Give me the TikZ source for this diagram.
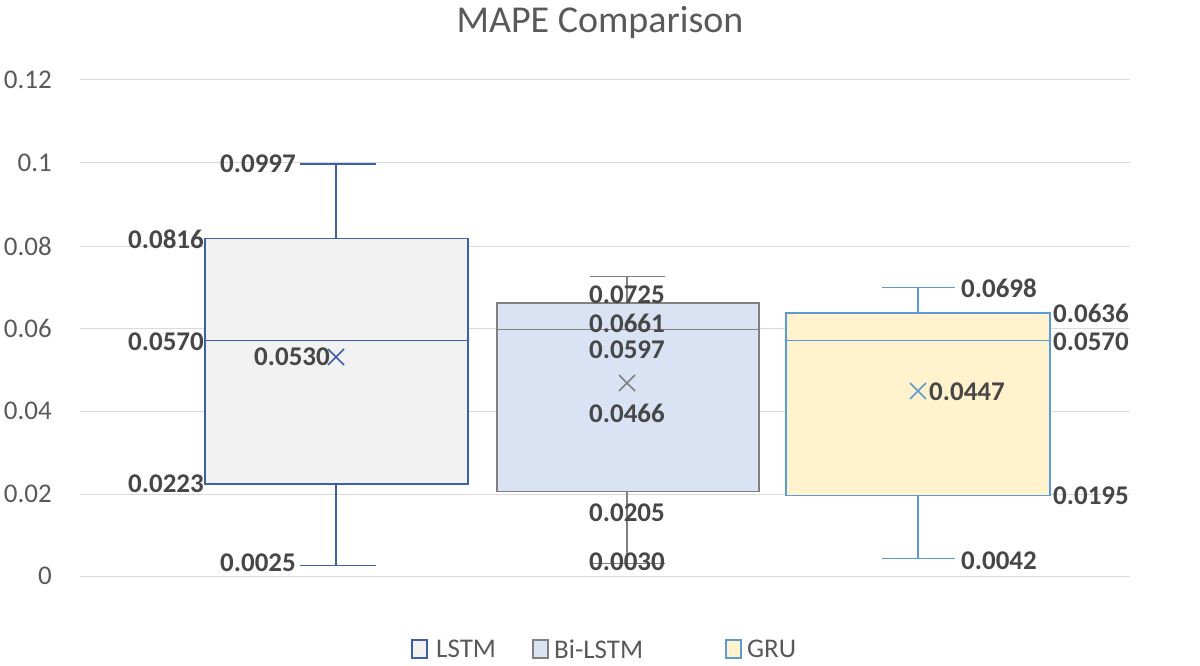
\documentclass[tikz,border=0pt]{standalone}
\usepackage{fontspec}
\setmainfont{Carlito}
\definecolor{lstmc}{HTML}{3D5EA8}
\definecolor{gruc}{HTML}{5B9BD5}
\definecolor{bilf}{HTML}{DAE3F3}
\definecolor{gruf}{HTML}{FFF2CC}
\begin{document}
\begin{tikzpicture}[x=1pt,y=-1pt,
  lbl/.style={font=\fontsize{27}{29}\selectfont\bfseries, text=black!72, inner sep=1pt},
  tick/.style={font=\fontsize{27}{29}\selectfont, text=black!65, anchor=east, inner sep=0pt},
  grid/.style={draw=black!15, line width=1pt},
  lstm/.style={draw=lstmc, fill=black!5, line width=1.5pt},
  bil/.style={draw=black!50, fill=bilf, line width=1.5pt},
  gru/.style={draw=gruc, fill=gruf, line width=1.5pt}]
\useasboundingbox (0,0) rectangle (1200,666);
\node[font=\fontsize{38}{40}\selectfont, text=black!65] (title) at (600,22) {MAPE Comparison};
\foreach \v/\p in {0/576,0.02/494,0.04/411,0.06/328,0.08/246,0.1/163,0.12/80}{
  \draw[grid] (80,\p) -- (1130,\p);
  \node[tick] at (52,\p) {\v};}
% LSTM
\draw[lstm] (336,164) -- (336,238.7) (336,483.8) -- (336,565.7);
\draw[lstm] (300,164) -- (376,164) (300,565.7) -- (376,565.7);
\draw[lstm] (205,238.7) rectangle (468,483.8);
\draw[lstm] (205,340.4) -- (468,340.4);
\draw[draw=lstmc, line width=1.5pt] (328,349) -- (344,365) (328,365) -- (344,349);
\node[lbl,anchor=east] (l1) at (297,164) {0.0997};
\node[lbl,anchor=east] (l2) at (205,239) {0.0816};
\node[lbl,anchor=east] (l3) at (205,342) {0.0570};
\node[lbl,anchor=east] (l4) at (331,357) {0.0530};
\node[lbl,anchor=east] (l5) at (205,484) {0.0223};
\node[lbl,anchor=east] (l6) at (297,563) {0.0025};
% Bi-LSTM
\draw[bil] (627,276.4) -- (627,302.8) (627,491.3) -- (627,563.6);
\draw[bil] (590,276.4) -- (665,276.4) (590,563.6) -- (665,563.6);
\draw[bil] (497,302.8) rectangle (759,491.3);
\draw[bil] (497,329.3) -- (759,329.3);
\draw[draw=black!50, line width=1.5pt] (619,375) -- (635,391) (619,391) -- (635,375);
\node[lbl] (b1) at (627,295) {0.0725};
\node[lbl] (b2) at (627,323) {0.0661};
\node[lbl] (b3) at (627,350) {0.0597};
\node[lbl] (b4) at (627,413) {0.0466};
\node[lbl] (b5) at (627,513) {0.0205};
\node[lbl] (b6) at (627,562) {0.0030};
% GRU
\draw[gru] (918,287.5) -- (918,313.1) (918,495.4) -- (918,558.6);
\draw[gru] (882,287.5) -- (955,287.5) (882,558.6) -- (955,558.6);
\draw[gru] (786,313.1) rectangle (1050,495.4);
\draw[gru] (786,340.4) -- (1050,340.4);
\draw[draw=gruc, line width=1.5pt] (910,383) -- (926,399) (910,399) -- (926,383);
\node[lbl,anchor=west] (g1) at (960,288) {0.0698};
\node[lbl,anchor=west] (g2) at (1052,313) {0.0636};
\node[lbl,anchor=west] (g3) at (1052,342) {0.0570};
\node[lbl,anchor=west] (g4) at (928,392) {0.0447};
\node[lbl,anchor=west] (g5) at (1052,496) {0.0195};
\node[lbl,anchor=west] (g6) at (960,561) {0.0042};
% legend
\draw[lstm] (412,640) rectangle (427,658);
\node[tick,anchor=west] (k1) at (436,649) {LSTM};
\draw[bil] (533,640) rectangle (548,658);
\node[tick,anchor=west] (k2) at (554,649) {Bi-LSTM};
\draw[gru] (726,640) rectangle (741,658);
\node[tick,anchor=west] (k3) at (747,649) {GRU};
\end{tikzpicture}
\end{document}
